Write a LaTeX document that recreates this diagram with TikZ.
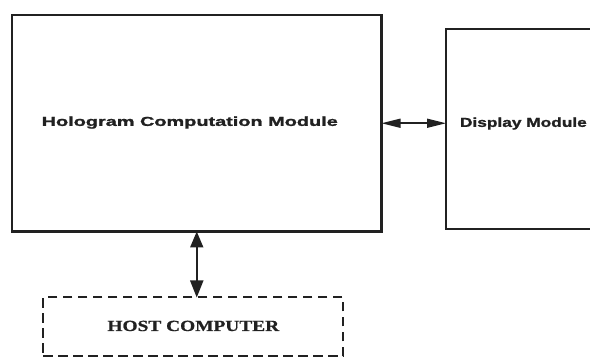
\documentclass[tikz,border=0pt]{standalone}
\usepackage{fontspec}
\newfontfamily\labsans[FakeBold=1.2]{Liberation Sans}
\newfontfamily\labserif[FakeBold=0.8]{Liberation Serif}
\usetikzlibrary{arrows.meta}
\definecolor{ink}{gray}{0.13}
\begin{document}
\begin{tikzpicture}[x=1pt,y=-1pt,
  box/.style={draw=ink, rectangle, inner sep=0pt, outer sep=0pt},
  lbl/.style={inner sep=0pt, outer sep=0pt, text=ink},
  harr/.style={draw=ink, line width=1.6pt, {Triangle[length=19pt,width=9pt]}-{Triangle[length=19pt,width=9pt]}},
  varr/.style={draw=ink, line width=1.8pt, {Triangle[length=16pt,width=13pt]}-{Triangle[length=17pt,width=13pt]}}]
\useasboundingbox (0,0) rectangle (590,358);
\clip (0,0) rectangle (590,358);
\fill[white] (0,0) rectangle (590,358);
% boxes
\node[box, line width=2.7pt, minimum width=369.5pt, minimum height=216.5pt] (main) at (196.75,123.25) {};
\node[box, line width=1.8pt, minimum width=184pt, minimum height=200pt] (disp) at (538,129) {};
\node[box, line width=2pt, dash pattern=on 9.5pt off 5.5pt, minimum width=300pt, minimum height=59pt] (host) at (193.3,327) {};
% texts
\node[lbl, anchor=base west] (maintext) at (41.7,125.9)
  {\scalebox{1.53}[1]{\labsans\bfseries\fontsize{13}{15}\selectfont Hologram Computation Module}};
\node[lbl, anchor=base west] (disptext) at (460,126.9)
  {\scalebox{1.33}[1]{\labsans\bfseries\fontsize{13}{15}\selectfont Display Module}};
\node[lbl, anchor=base] (hosttext) at (193.3,331)
  {\scalebox{1.25}[1]{\labserif\bfseries\fontsize{15.5}{17}\selectfont HOST COMPUTER}};
% connectors
\draw[harr] (main.east) -- (main.east -| disp.west);
\draw[varr] (main.south) -- (main.south |- host.north);
\end{tikzpicture}
\end{document}
